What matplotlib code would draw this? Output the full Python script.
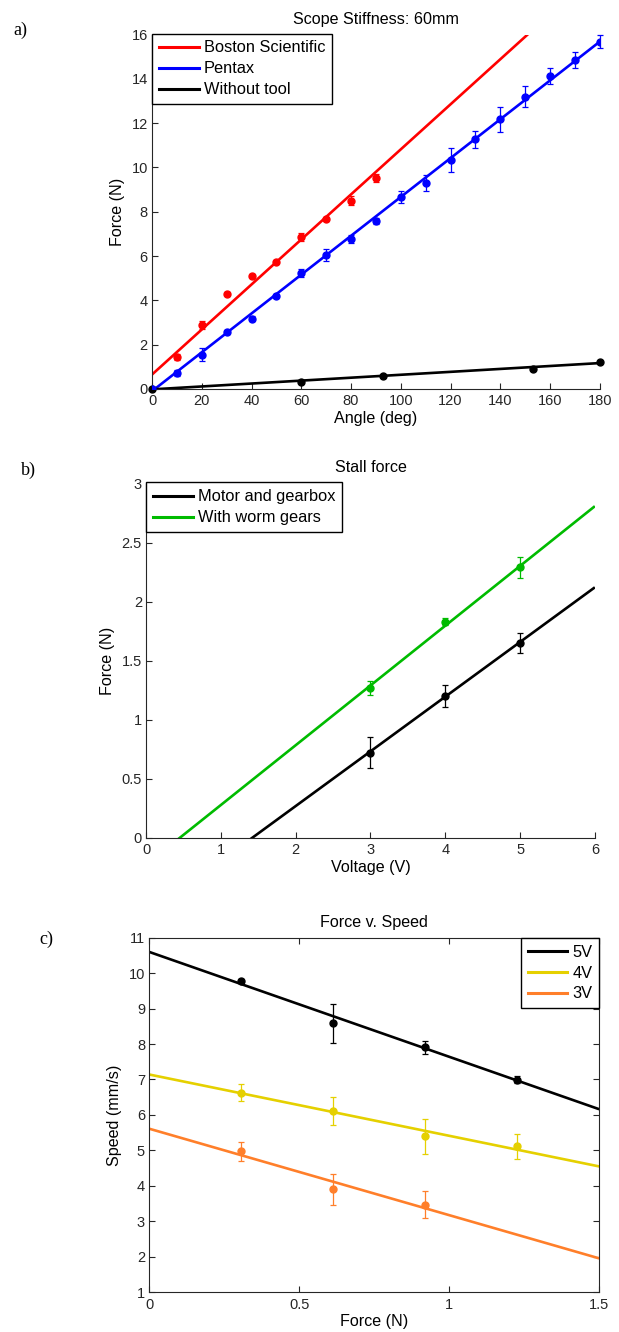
import matplotlib
matplotlib.use("Agg")
import matplotlib.pyplot as plt
import numpy as np

plt.rcParams['font.family'] = ['Liberation Sans', 'DejaVu Sans']

# ---------------- Panel a data ----------------
a_title = "Scope Stiffness: 60mm"
bs_x = [10, 20, 30, 40, 50, 60, 70, 80, 90]
bs_y = [1.45, 2.88, 4.30, 5.12, 5.75, 6.87, 7.68, 8.50, 9.52]
bs_err = [0.15, 0.18, 0.08, 0.08, 0.08, 0.18, 0.08, 0.2, 0.18]
bs_fit = [0.65, 0.1017]   # intercept, slope

px_x = [0, 10, 20, 30, 40, 50, 60, 70, 80, 90, 100, 110, 120, 130, 140, 150, 160, 170, 180]
px_y = [0.0, 0.72, 1.55, 2.57, 3.18, 4.20, 5.22, 6.04, 6.76, 7.58, 8.68, 9.30, 10.35,
        11.27, 12.17, 13.20, 14.13, 14.85, 15.68]
px_err = [0.05, 0.15, 0.3, 0.08, 0.1, 0.08, 0.18, 0.28, 0.18, 0.12, 0.28, 0.38, 0.55,
          0.4, 0.57, 0.47, 0.35, 0.37, 0.3]
px_fit = [-0.1, 0.0877]

wt_x = [0, 60, 93, 153, 180]
wt_y = [0.0, 0.32, 0.60, 0.92, 1.22]
wt_fit = [-0.02, 0.0066]

# ---------------- Panel b data ----------------
b_title = "Stall force"
b_x = [3, 4, 5]
mg_y = [0.72, 1.20, 1.65]
mg_err = [0.13, 0.09, 0.085]
mg_fit = [-0.657, 0.463]
wg_y = [1.27, 1.83, 2.29]
wg_err = [0.06, 0.03, 0.09]
wg_fit = [-0.228, 0.506]

# ---------------- Panel c data ----------------
c_title = "Force v. Speed"
c_x = [0.3067, 0.6133, 0.92, 1.2267]
v5_y = [9.79, 8.58, 7.91, 6.99]
v5_err = [0.05, 0.56, 0.18, 0.1]
v5_fit = [10.60, -2.96]
v4_y = [6.63, 6.11, 5.39, 5.11]
v4_err = [0.24, 0.40, 0.50, 0.35]
v4_fit = [7.14, -1.73]
v3_x = [0.3067, 0.6133, 0.92]
v3_y = [4.97, 3.90, 3.47]
v3_err = [0.26, 0.44, 0.37]
v3_fit = [5.61, -2.44]

RED = '#ff0000'
BLUE = '#0000ff'
BLACK = '#000000'
GREEN = '#00bb00'
YELLOW = '#e5d000'
ORANGE = '#ff7f2a'

fig = plt.figure(figsize=(6.19, 13.32), dpi=100)

TICK_FS = 10.5
LAB_FS = 11.6
TITLE_FS = 11.6
LEG_FS = 11.8


def style_axes(ax, box=False):
    for s in ['left', 'bottom', 'top', 'right']:
        ax.spines[s].set_color('#262626')
        ax.spines[s].set_linewidth(0.8)
    if not box:
        ax.spines['top'].set_visible(False)
        ax.spines['right'].set_visible(False)
    ax.tick_params(direction='in', length=4, width=0.8, colors='#262626',
                   labelsize=TICK_FS, top=box, right=box)
    ax.tick_params(axis='x', pad=4)
    ax.tick_params(axis='y', pad=3)


def fit_line(ax, fit, x0, x1, color):
    xs = np.array([x0, x1])
    ax.plot(xs, fit[0] + fit[1] * xs, color=color, lw=1.9, solid_capstyle='butt')


def pts(ax, x, y, err, color):
    if err is None:
        ax.plot(x, y, 'o', color=color, ms=5, mec=color, clip_on=False, zorder=4)
    else:
        _, caps, bars = ax.errorbar(x, y, yerr=err, fmt='o', color=color, ms=5, mec=color,
                                    elinewidth=0.9, capsize=2, capthick=0.9, zorder=4)
        for art in list(caps) + list(bars):
            art.set_clip_on(False)
        ax.lines[-1].set_clip_on(False)


def legend(ax, handles, labels, loc, anchor, hl=2.45):
    leg = ax.legend(handles, labels, loc=loc, bbox_to_anchor=anchor,
                    borderaxespad=0, fontsize=LEG_FS, frameon=True, fancybox=False,
                    edgecolor='black', handlelength=hl, handletextpad=0.3,
                    labelspacing=0.36, borderpad=0.42, framealpha=1)
    leg.get_frame().set_linewidth(1.0)
    leg.set_zorder(10)
    return leg


# ---------------- Panel a ----------------
axa = fig.add_axes([0.2456, 0.708, 0.7234, 0.266])
style_axes(axa)
la, = axa.plot([], [], color=RED, lw=2.2)
lb, = axa.plot([], [], color=BLUE, lw=2.2)
lc, = axa.plot([], [], color=BLACK, lw=2.2)
fit_line(axa, bs_fit, 0, 180, RED)
fit_line(axa, px_fit, 0, 180, BLUE)
fit_line(axa, wt_fit, 0, 180, BLACK)
pts(axa, bs_x, bs_y, bs_err, RED)
pts(axa, px_x, px_y, px_err, BLUE)
pts(axa, wt_x, wt_y, None, BLACK)
axa.set_xlim(0, 180)
axa.set_ylim(0, 16)
axa.set_xticks(np.arange(0, 181, 20))
axa.set_yticks(np.arange(0, 17, 2))
axa.set_xlabel("Angle (deg)", fontsize=LAB_FS, labelpad=2)
axa.set_ylabel("Force (N)", fontsize=LAB_FS, labelpad=5)
axa.set_title(a_title, fontsize=TITLE_FS, pad=8)
legend(axa, [la, lb, lc], ["Boston Scientific", "Pentax", "Without tool"],
       'upper left', (0, 1.003))

# ---------------- Panel b ----------------
axb = fig.add_axes([0.236, 0.371, 0.725, 0.266])
style_axes(axb)
l1, = axb.plot([], [], color=BLACK, lw=2.2)
l2, = axb.plot([], [], color=GREEN, lw=2.2)
fit_line(axb, mg_fit, 0, 6, BLACK)
fit_line(axb, wg_fit, 0, 6, GREEN)
pts(axb, b_x, mg_y, mg_err, BLACK)
pts(axb, b_x, wg_y, wg_err, GREEN)
axb.set_xlim(0, 6)
axb.set_ylim(0, 3)
axb.set_xticks(np.arange(0, 7, 1))
axb.set_yticks(np.arange(0, 3.01, 0.5))
axb.set_yticklabels(['0', '0.5', '1', '1.5', '2', '2.5', '3'])
axb.set_xlabel("Voltage (V)", fontsize=LAB_FS, labelpad=2)
axb.set_ylabel("Force (N)", fontsize=LAB_FS, labelpad=5)
axb.set_title(b_title, fontsize=TITLE_FS, pad=8)
legend(axb, [l1, l2], ["Motor and gearbox", "With worm gears"], 'upper left', (0, 1.003))

# ---------------- Panel c ----------------
axc = fig.add_axes([0.241, 0.030, 0.727, 0.266])
style_axes(axc, box=True)
m1, = axc.plot([], [], color=BLACK, lw=2.2)
m2, = axc.plot([], [], color=YELLOW, lw=2.2)
m3, = axc.plot([], [], color=ORANGE, lw=2.2)
fit_line(axc, v5_fit, 0, 1.5, BLACK)
fit_line(axc, v4_fit, 0, 1.5, YELLOW)
fit_line(axc, v3_fit, 0, 1.5, ORANGE)
pts(axc, c_x, v5_y, v5_err, BLACK)
pts(axc, c_x, v4_y, v4_err, YELLOW)
pts(axc, v3_x, v3_y, v3_err, ORANGE)
axc.set_xlim(0, 1.5)
axc.set_ylim(1, 11)
axc.set_xticks([0, 0.5, 1, 1.5])
axc.set_xticklabels(['0', '0.5', '1', '1.5'])
axc.set_yticks(np.arange(1, 12, 1))
axc.set_xlabel("Force (N)", fontsize=LAB_FS, labelpad=2)
axc.set_ylabel("Speed (mm/s)", fontsize=LAB_FS, labelpad=5)
axc.set_title(c_title, fontsize=TITLE_FS, pad=8)
legend(axc, [m1, m2, m3], ["5V", "4V", "3V"], 'upper right', (1.0, 1.0), hl=2.4)

# Panel letters
fig.text(13 / 619, 1 - 30 / 1332, "a)", fontsize=13, family='Liberation Serif', va='center')
fig.text(21 / 619, 1 - 470 / 1332, "b)", fontsize=13, family='Liberation Serif', va='center')
fig.text(39 / 619, 1 - 939 / 1332, "c)", fontsize=13, family='Liberation Serif', va='center')

fig.savefig("out.png", dpi=100)
